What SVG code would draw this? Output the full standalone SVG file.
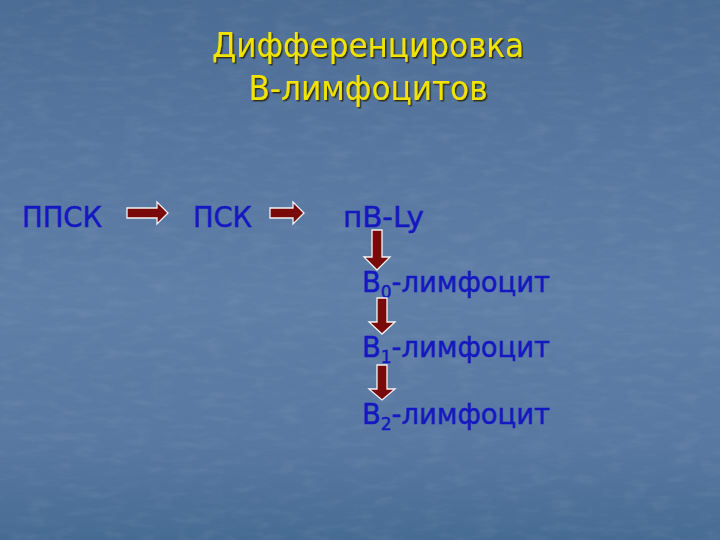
<svg xmlns="http://www.w3.org/2000/svg" width="720" height="540" viewBox="0 0 720 540">
<defs>
<linearGradient id="bg" x1="0" y1="0" x2="0" y2="1">
<stop offset="0" stop-color="#4b6c94"/>
<stop offset="0.25" stop-color="#5676a0"/>
<stop offset="0.55" stop-color="#5f7fa8"/>
<stop offset="0.82" stop-color="#5878a2"/>
<stop offset="1" stop-color="#476c94"/>
</linearGradient>
<filter id="tex" x="0" y="0" width="100%" height="100%">
<feTurbulence type="fractalNoise" baseFrequency="0.04 0.12" numOctaves="3" seed="4" result="n"/>
<feColorMatrix in="n" type="matrix" values="0 0 0 0 1  0 0 0 0 1  0 0 0 0 1  0 0 0 1.1 -0.5" result="w"/>
<feComposite in="w" in2="SourceGraphic" operator="in"/>
</filter>
<filter id="sh" x="-5%" y="-20%" width="110%" height="140%">
<feDropShadow dx="1.5" dy="1.5" stdDeviation="0.6" flood-color="#2a2a10" flood-opacity="0.9"/>
</filter>
</defs>
<style>
.title{font-family:"DejaVu Sans","Liberation Sans",sans-serif;font-size:33px;fill:#f2e400;text-anchor:middle}
.lbl{font-family:"DejaVu Sans","Liberation Sans",sans-serif;font-size:29px;fill:#1418c0;stroke:#1418c0;stroke-width:0.5}
.sub{font-size:18px}
.arr{fill:#7a0a0a;stroke:#f4f4f4;stroke-width:1.3;stroke-linejoin:miter}
</style>
<rect width="720" height="540" fill="url(#bg)"/>
<rect width="720" height="540" fill="#fff" opacity="0.12" filter="url(#tex)"/>
<g id="title" filter="url(#sh)">
<text class="title" x="368" y="57" textLength="312" lengthAdjust="spacingAndGlyphs">Дифференцировка</text>
<text class="title" x="368" y="100" textLength="239" lengthAdjust="spacingAndGlyphs">В-лимфоцитов</text>
</g>
<g id="ppsk"><text class="lbl" x="22" y="227" textLength="80" lengthAdjust="spacingAndGlyphs">ППСК</text></g>
<g id="psk"><text class="lbl" x="193" y="227" textLength="59" lengthAdjust="spacingAndGlyphs">ПСК</text></g>
<g id="pBLy"><text class="lbl" x="343" y="227" textLength="81" lengthAdjust="spacingAndGlyphs">пВ-Ly</text></g>
<g id="b0"><text class="lbl" x="362" y="292" textLength="188" lengthAdjust="spacingAndGlyphs">B<tspan class="sub" dy="6">0</tspan><tspan dy="-6">-лимфоцит</tspan></text></g>
<g id="b1"><text class="lbl" x="362" y="357" textLength="188" lengthAdjust="spacingAndGlyphs">B<tspan class="sub" dy="6">1</tspan><tspan dy="-6">-лимфоцит</tspan></text></g>
<g id="b2"><text class="lbl" x="362" y="424" textLength="188" lengthAdjust="spacingAndGlyphs">B<tspan class="sub" dy="6">2</tspan><tspan dy="-6">-лимфоцит</tspan></text></g>
<g id="connectors">
<path class="arr" d="M127,208 H157 V202 L168,213 L157,224 V218 H127 Z"/>
<path class="arr" d="M270,208 H293 V202 L304,213 L293,224 V218 H270 Z"/>
<path class="arr" d="M372,230 H382 V257 H390 L377,270 L364,257 H372 Z"/>
<path class="arr" d="M377,298 H387 V322 H395 L382,334 L369,322 H377 Z"/>
<path class="arr" d="M377,365 H387 V389 H395 L382,400 L369,389 H377 Z"/>
</g>
</svg>
